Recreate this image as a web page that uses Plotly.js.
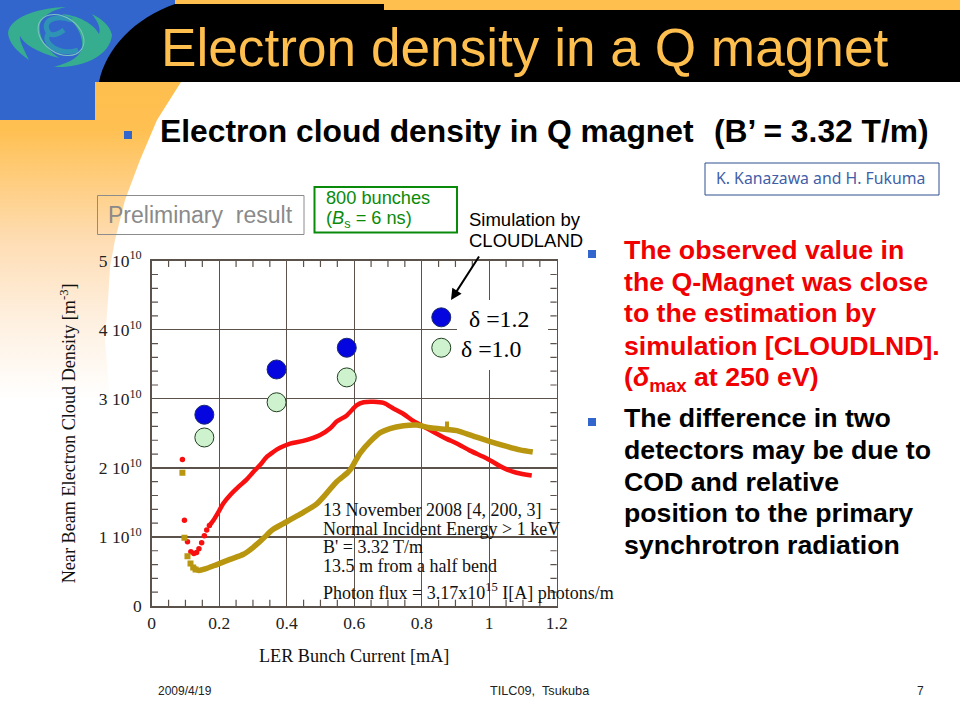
<!DOCTYPE html>
<html><head><meta charset="utf-8">
<script src="https://cdn.plot.ly/plotly-3.0.1.min.js"></script>
<style>html,body{margin:0;padding:0;background:#fff}#p{width:960px;height:720px}</style>
</head><body><div id="p"></div>
<script>
// Values in units of 1e10 m^-3 against LER bunch current [mA]
const redDotX=[0.091,0.097,0.106,0.116,0.125,0.133,0.14,0.148,0.156,0.163,0.171];
const redDotY=[2.12,1.24,0.93,0.785,0.76,0.776,0.83,0.916,1.017,1.10,1.166];
const redX=[0.171,0.183,0.198,0.212,0.232,0.257,0.281,0.301,0.321,0.341,0.36,0.38,0.41,0.449,0.499,0.528,0.548,0.578,0.608,0.628,0.657,0.687,0.716,0.746,0.775,0.805,0.835,0.874,0.904,0.943,0.993,1.042,1.081,1.126];
const redY=[1.166,1.243,1.364,1.484,1.605,1.725,1.83,1.94,2.04,2.16,2.23,2.29,2.35,2.39,2.475,2.57,2.67,2.76,2.91,2.95,2.957,2.94,2.86,2.78,2.68,2.60,2.52,2.42,2.354,2.25,2.137,2.0,1.93,1.89];
const oliveDotX=[0.091,0.097,0.106,0.115,0.123,0.13];
const oliveDotY=[1.93,0.99,0.72,0.617,0.559,0.53];
const oliveX=[0.123,0.138,0.163,0.193,0.232,0.272,0.301,0.331,0.36,0.40,0.44,0.489,0.518,0.548,0.578,0.588,0.617,0.647,0.677,0.706,0.746,0.786,0.825,0.874,0.904,0.953,1.003,1.052,1.091,1.129];
const oliveY=[0.559,0.516,0.545,0.60,0.675,0.75,0.85,0.98,1.11,1.22,1.33,1.48,1.63,1.80,1.92,1.97,2.21,2.38,2.51,2.57,2.61,2.62,2.58,2.556,2.54,2.46,2.38,2.31,2.26,2.23];
const oliveSpikeX=[0.875,0.875];
const oliveSpikeY=[2.55,2.67];
const simX=[0.156,0.370,0.578,0.858];
const delta12=[2.77,3.425,3.74,4.18];
const delta10=[2.44,2.95,3.31,3.74];
const xTicks=[0,0.2,0.4,0.6,0.8,1,1.2];
const xLabels=['0','0.2','0.4','0.6','0.8','1','1.2'];
const yTicks=[0,1,2,3,4,5];
const yLabels=['0','1 10<sup>10</sup>','2 10<sup>10</sup>','3 10<sup>10</sup>','4 10<sup>10</sup>','5 10<sup>10</sup>'];
const xFrameTicks=[0.05,0.1,0.15,0.25,0.3,0.35,0.45,0.5,0.55,0.65,0.7,0.75,0.85,0.9,0.95,1.05,1.1,1.15];
const yFrameTicks=[0.2,0.4,0.6,0.8,1.2,1.4,1.6,1.8,2.2,2.4,2.6,2.8,3.2,3.4,3.6,3.8,4.2,4.4,4.6,4.8];
const redLines=['The observed value in','the Q-Magnet was close','to the estimation by','simulation [CLOUDLND].','(<i>δ</i><sub>max</sub> at 250 eV)'];
const redLineY=[250,282,313,346,379];
const blackLines=['The difference in two','detectors may be due to','COD and relative','position to the primary','synchrotron radiation'];
const blackLineY=[418,450,482,513,545];
const noteLines=['13 November 2008 [4, 200, 3]','Normal Incident Energy > 1 keV',"B' = 3.32 T/m",'13.5 m from a half bend','Photon flux = 3.17x10<sup>15</sup> I[A] photons/m'];
const noteLineY=[510,529,547,566,591];

const W=960,H=720;
const SANS='"Liberation Sans",Arial,sans-serif', SERIF='"Liberation Serif","Times New Roman",serif';
const px=x=>x/W, py=y=>1-y/H;
function label(text,x,y,size,color,family,anchor){
  return {text,x:px(x),y:py(y),xref:'paper',yref:'paper',xanchor:anchor||'left',yanchor:'middle',showarrow:false,align:'left',
    font:{size,color,family:family||SANS},borderpad:0};
}
function box(x0,y0,x1,y1,line,fill,width){
  return {type:'rect',xref:'paper',yref:'paper',x0:px(x0),x1:px(x1),y0:py(y0),y1:py(y1),
    line:{color:line||'rgba(0,0,0,0)',width:width===undefined?1:width},fillcolor:fill||'rgba(0,0,0,0)',layer:'above'};
}
const bgSvg=`<svg xmlns="http://www.w3.org/2000/svg" width="960" height="720" viewBox="0 0 960 720">
<defs><linearGradient id="g" gradientUnits="userSpaceOnUse" x1="0" y1="82" x2="0" y2="400">
<stop offset="0" stop-color="#FFBF4E"/><stop offset="0.15" stop-color="#FFC052"/><stop offset="0.5" stop-color="#FEDDB4"/><stop offset="0.75" stop-color="#FEF0E0"/><stop offset="1" stop-color="#FFFFFF"/></linearGradient></defs>
<rect width="960" height="720" fill="#fff"/>
<path d="M0,82 L181,82 L157,120 L140,160 L125,200 L115,240 L110,267 L108,300 L105,340 L110,400 L0,400 Z" fill="url(#g)"/>
<path d="M0,0 L180,0 L180,82 L95,82 L95,120 L0,120 Z" fill="#3366CC"/>
<rect x="175" y="0" width="785" height="11" fill="#FFBF4E"/>
<path d="M175,4 L384,4 L384,10 L960,10 L960,82 L99,82 C106,48 135,18 175,4 Z" fill="#000"/>
<path d="M66,7 C35,8 10,18 8,33 C9,44 18,52 29,60 C24,50 19,40 20,36 C24,44 36,52 59,58 C45,48 38,36 40,24 C42,16 52,10 66,7 Z" fill="#36AD8E"/>
<path d="M54,67 C85,68 110,55 112,35 C110,25 100,18 92,14 C98,22 101,28 99,34 C95,26 82,16 62,14 C75,20 84,36 82,48 C80,56 72,62 54,67 Z" fill="#36AD8E"/>
<path d="M72,20 C52,14 42,22 48,32 C50,36 56,36 64,30 M48,34 C42,44 60,56 78,50" stroke="#2F93B5" stroke-width="5" fill="none"/>
<ellipse cx="61" cy="35" rx="25" ry="18" transform="rotate(35 61 35)" stroke="#7CC4BE" stroke-width="1" fill="none"/>
</svg>`;
const images=[{source:'data:image/svg+xml;charset=utf-8,'+encodeURIComponent(bgSvg),xref:'paper',yref:'paper',x:0,y:1,sizex:1,sizey:1,xanchor:'left',yanchor:'top',sizing:'stretch',layer:'below'}];

const RED='#F81010', OLIVE='#B8960F', GRID='#5C524C';
const tickMark=(x,y,symbol)=>({x,y,mode:'markers',hoverinfo:'skip',marker:{symbol,size:9,color:GRID,line:{color:GRID,width:1.2}}});
const traces=[
 tickMark(xFrameTicks,xFrameTicks.map(()=>0),'line-ns'),
 tickMark(xFrameTicks,xFrameTicks.map(()=>5),'line-ns'),
 tickMark(yFrameTicks.map(()=>0),yFrameTicks,'line-ew'),
 tickMark(yFrameTicks.map(()=>1.2),yFrameTicks,'line-ew'),
 {x:redX,y:redY,mode:'lines',line:{color:RED,width:4.5,shape:'spline',smoothing:0.8},name:'red curve'},
 {x:redDotX,y:redDotY,mode:'markers',marker:{color:RED,size:5.5,symbol:'circle'},name:'red points'},
 {x:oliveX,y:oliveY,mode:'lines',line:{color:OLIVE,width:5.5,shape:'spline',smoothing:0.8},name:'olive curve'},
 {x:oliveDotX,y:oliveDotY,mode:'markers',marker:{color:OLIVE,size:6,symbol:'square'},name:'olive points'},
 {x:oliveSpikeX,y:oliveSpikeY,mode:'lines',line:{color:OLIVE,width:4},name:'olive spike'},
 {x:simX,y:delta12,mode:'markers',marker:{color:'#0505E0',size:19,line:{color:'#1A2A6A',width:1}},name:'δ=1.2'},
 {x:simX,y:delta10,mode:'markers',marker:{color:'#CDF2CD',size:19,line:{color:'#1F3F1F',width:1}},name:'δ=1.0'}
];
const annotations=[
 label('Electron density in a Q magnet',160,48,53.2,'#FFBF4E'),
 label("<b>Electron cloud density in Q magnet</b>",159,131,31.8,'#000',SANS),
 label("<b>(B’ = 3.32 T/m)</b>",713,131,31.8,'#000',SANS),
 label('Preliminary  result',107,215,23,'#8A8A8A'),
 label('800 bunches',325,198,18.2,'#0A8A0A'),
 label('(<i>B</i><sub>s</sub> = 6 ns)',325,219,18.2,'#0A8A0A'),
 label('Simulation by',468,219,18.5,'#000'),
 label('CLOUDLAND',468,241,18.5,'#000'),
 label('K. Kanazawa and H. Fukuma',715,178,15.8,'#3F5FA8','"Noto Sans","Open Sans",sans-serif'),
 label('δ =1.2',468,319,23.8,'#000',SERIF),
 label('δ =1.0',460,349,23.8,'#000',SERIF),
 label('2009/4/19',157,691,12,'#222'),
 label('TILC09,  Tsukuba',489,691,12.7,'#222'),
 label('7',916,691,12,'#222'),
 {x:px(451),y:py(300),xref:'paper',yref:'paper',ax:29,ay:-45,axref:'pixel',ayref:'pixel',text:'',showarrow:true,arrowhead:2,arrowsize:1.1,arrowwidth:2,arrowcolor:'#000'}
];
redLines.forEach((t,i)=>annotations.push(label('<b>'+t+'</b>',623,redLineY[i],26.7,'#F00000')));
blackLines.forEach((t,i)=>annotations.push(label('<b>'+t+'</b>',623,blackLineY[i],26.7,'#000')));
noteLines.forEach((t,i)=>annotations.push(label(t,322,noteLineY[i],18,'#111',SERIF)));

const shapes=[
 box(97.5,195.5,304,234.5,'#8C8C8C',null,1),
 box(314.5,187,457,232.5,'#0A8A0A',null,2),
 box(705,163,939,195,'#2F4F90',null,1),
 box(457,300,548,370,null,'#FFFFFF',0),
 box(124,131,132,139,null,'#3366CC',0),
 box(588,250,596,258,null,'#3366CC',0),
 box(588,418,596,426,null,'#3366CC',0)
];
const XDOM=[151.7/W,556.7/W], YDOM=[1-606/H,1-260.7/H];
const axisCommon={showline:true,linecolor:GRID,linewidth:1.5,mirror:true,ticks:'inside',ticklen:4,tickcolor:GRID,tickwidth:1.2,
  showgrid:true,gridcolor:GRID,gridwidth:1.3,zeroline:false,tickmode:'array',
  tickfont:{family:SERIF,size:17.5,color:'#222'}};
const layout={width:W,height:H,margin:{l:0,r:0,t:0,b:0,pad:0},paper_bgcolor:'#fff',plot_bgcolor:'rgba(0,0,0,0)',showlegend:false,
  xaxis:Object.assign({},axisCommon,{domain:XDOM,range:[0,1.2],tickvals:xTicks,ticktext:xLabels,
    title:{text:'LER Bunch Current [mA]',font:{family:SERIF,size:18.2,color:'#111'},standoff:18}}),
  yaxis:Object.assign({},axisCommon,{domain:YDOM,range:[0,5],tickvals:yTicks,ticktext:yLabels,ticklabelstandoff:5,
    title:{text:'Near Beam Electron Cloud Density [m<sup>-3</sup>]',font:{family:SERIF,size:18.2,color:'#111'},standoff:18}}),
  images,shapes,annotations};
Plotly.newPlot('p',traces,layout,{displayModeBar:false,staticPlot:true});
</script></body></html>
